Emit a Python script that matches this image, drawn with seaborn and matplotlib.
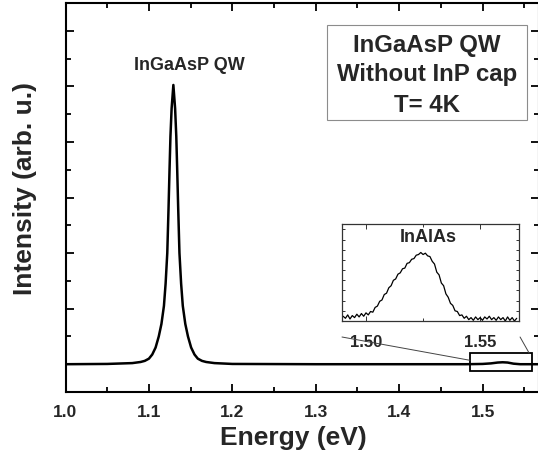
import matplotlib
matplotlib.use("Agg")
import matplotlib.pyplot as plt
import seaborn as sns
from matplotlib.patches import Rectangle, ConnectionPatch
from matplotlib.ticker import MultipleLocator

# ---------------- data ----------------
energy = [1.000, 1.050, 1.080, 1.090, 1.095, 1.100, 1.104, 1.108, 1.1118,
          1.115, 1.118, 1.120, 1.122, 1.1235, 1.1247, 1.1258, 1.1272, 1.1293,
          1.1314, 1.1328, 1.1339, 1.1351, 1.1366, 1.1386, 1.1406, 1.1436,
          1.1468, 1.1506, 1.1546, 1.1586, 1.1636, 1.1686, 1.1786, 1.200,
          1.300, 1.400, 1.480, 1.500, 1.510, 1.518, 1.524, 1.530, 1.537,
          1.545, 1.566]
intensity = [0.00, 0.01, 0.04, 0.08, 0.12, 0.20, 0.35, 0.60, 1.00,
             1.45, 2.10, 2.90, 4.00, 5.60, 7.00, 8.20, 9.20, 10.05,
             9.20, 8.20, 7.00, 5.60, 4.00, 2.90, 2.10, 1.45,
             1.00, 0.60, 0.35, 0.20, 0.12, 0.08, 0.04, 0.01,
             0.00, 0.00, 0.00, 0.01, 0.03, 0.06, 0.07, 0.06, 0.02,
             0.00, 0.00]

inset_energy = [1.490, 1.491, 1.492, 1.493, 1.494, 1.495, 1.496, 1.497, 1.498, 1.499,
                1.500, 1.501, 1.502, 1.503, 1.504, 1.505, 1.506, 1.507, 1.508, 1.509,
                1.510, 1.511, 1.512, 1.513, 1.514, 1.515, 1.516, 1.517, 1.518, 1.519,
                1.520, 1.521, 1.522, 1.523, 1.524, 1.525, 1.526, 1.527, 1.528, 1.529,
                1.530, 1.531, 1.532, 1.533, 1.534, 1.535, 1.536, 1.537, 1.538, 1.539,
                1.540, 1.541, 1.542, 1.543, 1.544, 1.545, 1.546, 1.547, 1.548, 1.549,
                1.550, 1.551, 1.552, 1.553, 1.554, 1.555, 1.556, 1.557, 1.558, 1.559,
                1.560, 1.561, 1.562, 1.563, 1.564, 1.565, 1.566]
inset_intensity = [0.07, 0.04, 0.09, 0.03, 0.08, 0.05, 0.10, 0.06, 0.11, 0.07,
                   0.12, 0.09, 0.14, 0.13, 0.20, 0.22, 0.29, 0.31, 0.39, 0.41,
                   0.49, 0.52, 0.60, 0.62, 0.69, 0.71, 0.77, 0.78, 0.85, 0.86,
                   0.91, 0.92, 0.97, 0.98, 1.01, 0.98, 1.00, 0.96, 0.95, 0.88,
                   0.84, 0.72, 0.68, 0.56, 0.52, 0.40, 0.35, 0.26, 0.23, 0.15,
                   0.14, 0.08, 0.09, 0.04, 0.07, 0.02, 0.05, 0.01, 0.06, 0.02,
                   0.05, 0.01, 0.06, 0.03, 0.07, 0.02, 0.05, 0.01, 0.06, 0.02,
                   0.05, 0.00, 0.06, 0.01, 0.05, 0.00, 0.04]

x_ticks = [1.0, 1.1, 1.2, 1.3, 1.4, 1.5]
x_tick_labels = ["1.0", "1.1", "1.2", "1.3", "1.4", "1.5"]
inset_ticks = [1.50, 1.55]
inset_tick_labels = ["1.50", "1.55"]
box_lines = ["InGaAsP QW", "Without InP cap", "T= 4K"]
peak_label = "InGaAsP QW"
inset_label = "InAlAs"
x_label = "Energy (eV)"
y_label = "Intensity (arb. u.)"

# ---------------- style ----------------
sns.set_theme(style="ticks")
plt.rcParams["font.family"] = ["Liberation Sans", "DejaVu Sans"]
plt.rcParams["font.weight"] = "bold"

W, H = 538, 454
fig = plt.figure(figsize=(W / 100, H / 100), dpi=100)
fig.patch.set_facecolor("white")

# main axes
ax = fig.add_axes([65.5 / W, 62 / H, 473 / W, 389 / H])
sns.lineplot(x=energy, y=intensity, ax=ax, color="black", linewidth=1.8,
             sort=False, estimator=None)
ax.set_xlim(1.0, 1.567)
ax.set_ylim(-1, 13)
ax.set_xticks(x_ticks)
ax.set_xticklabels(x_tick_labels)
ax.xaxis.set_minor_locator(MultipleLocator(0.05))
ax.set_yticks(list(range(0, 13, 2)))
ax.set_yticklabels([])
ax.yaxis.set_minor_locator(MultipleLocator(1))
ax.tick_params(which="both", direction="in", top=True, right=True,
               width=1.3, color="black")
ax.tick_params(which="major", length=6)
ax.tick_params(which="minor", length=3.5)
ax.tick_params(axis="x", which="major", labelsize=12.5, pad=9.5)
for tl in ax.get_xticklabels():
    tl.set_fontweight("bold")
for s in ax.spines.values():
    s.set_linewidth(1.5)
    s.set_color("black")
ax.set_xlabel(x_label, fontsize=19, fontweight="bold")
ax.xaxis.set_label_coords(0.482, -0.088)
ax.set_ylabel(y_label, fontsize=19, fontweight="bold")
ax.yaxis.set_label_coords(-0.060, 0.524)

# peak label
ax.text(0.262, 0.8265, peak_label, transform=ax.transAxes, ha="center",
        va="baseline", fontsize=13, fontweight="bold")

# info box
ax.add_patch(Rectangle((0.553, 0.699), 0.423, 0.244, transform=ax.transAxes,
                       facecolor="white", edgecolor="#8c8c8c", linewidth=0.8,
                       zorder=3))
for txt, yb in zip(box_lines, [52, 80.5, 112.5]):
    ax.text(0.7636, (392 - yb) / 389, txt, transform=ax.transAxes,
            ha="center", va="baseline", fontsize=17.3, fontweight="bold", zorder=4)

# zoom rectangle
ax.add_patch(Rectangle((1.485, -0.25), 0.0743, 0.65, facecolor="none",
                       edgecolor="black", linewidth=1.3, zorder=5))

# inset axes
axi = fig.add_axes([342 / W, (H - 321) / H, 177 / W, 97 / H])
sns.lineplot(x=inset_energy, y=inset_intensity, ax=axi, color="black",
             linewidth=0.9, sort=False, estimator=None)
axi.set_xlim(1.4895, 1.567)
axi.set_ylim(0, 1.43)
axi.set_xticks(inset_ticks)
axi.set_xticklabels(inset_tick_labels)
axi.xaxis.set_minor_locator(MultipleLocator(0.025))
axi.set_yticks([])
axi.yaxis.set_minor_locator(MultipleLocator(0.15))
axi.tick_params(which="both", direction="in", top=True, right=True,
                width=0.7, color="#333333")
axi.tick_params(which="major", length=3.5)
axi.tick_params(which="minor", length=2)
axi.tick_params(axis="x", which="major", labelsize=12, pad=10)
axi.set_xlabel("")
axi.set_ylabel("")
for tl in axi.get_xticklabels():
    tl.set_fontweight("bold")
for s in axi.spines.values():
    s.set_linewidth(0.9)
    s.set_color("#333333")
axi.text(0.489, 0.814, inset_label, transform=axi.transAxes, ha="center",
         va="baseline", fontsize=13, fontweight="bold")

# connector lines
for xa, xb, yb in [(0.0, 1.485, 0.14), (1.006, 1.5558, 0.40)]:
    con = ConnectionPatch(xyA=(xa, -0.165), coordsA=axi.transAxes,
                          xyB=(xb, yb), coordsB=ax.transData,
                          color="#444444", linewidth=0.7)
    fig.add_artist(con)

fig.savefig("out.png", dpi=100, facecolor="white")
